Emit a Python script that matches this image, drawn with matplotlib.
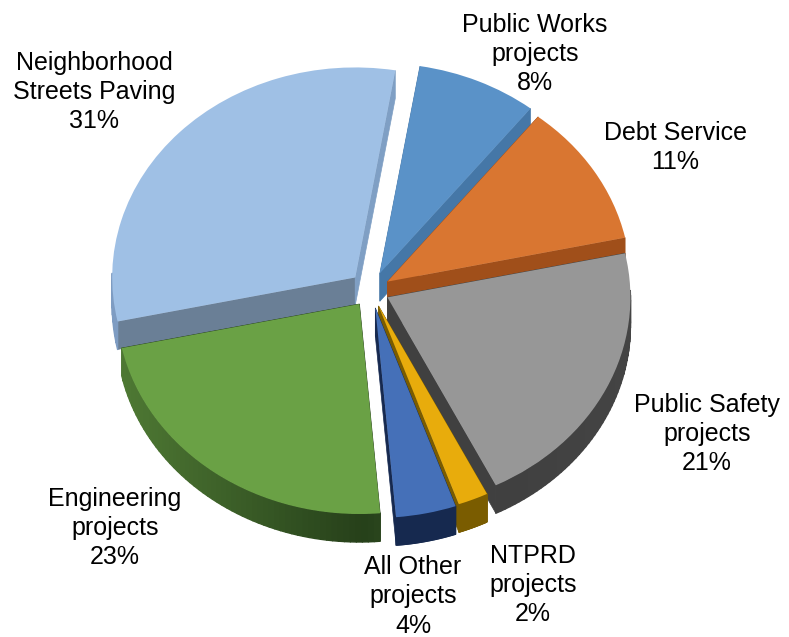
import numpy as np
import matplotlib
matplotlib.use("Agg")
import matplotlib.pyplot as plt
from matplotlib.collections import PolyCollection
from matplotlib.colors import to_rgb

plt.rcParams['font.family'] = ['Liberation Sans', 'DejaVu Sans']

# budget shares, clockwise from the top
names = ["Public Works\nprojects", "Debt Service", "Public Safety\nprojects", "NTPRD\nprojects",
         "All Other\nprojects", "Engineering\nprojects", "Neighborhood\nStreets Paving"]
shares = [8, 11, 21, 2, 4, 23, 31]

explode = [0.09, 0.08, 0.075, 0.08, 0.085, 0.08, 0.09]
top_colors = ["#5a92c8", "#d97631", "#979797", "#e8ac0c", "#4570b8", "#6aa145", "#9fc0e5"]
# outer wall colour at the two ends of each arc (bottom of the pie, sides of the pie)
wall_low = ["#4577a7", "#a04f1a", "#3c3c3c", "#7a5c00", "#16294f", "#26401a", "#7e9cc2"]
wall_high = ["#4577a7", "#a04f1a", "#444444", "#7a5c00", "#16294f", "#4f7a34", "#7e9cc2"]
cut_start = ["#4577a7", "#a04f1a", "#404040", "#7a5c00", "#16294f", "#26401a", "#6a7f96"]
cut_end = ["#4577a7", "#a04f1a", "#404040", "#7a5c00", "#16294f", "#26401a", "#7f9fc4"]
# back slices are painted first
draw_rank = [1, 2, 3, 4, 6, 5, 0]

label_x = [535, 675, 707, 533, 413, 115, 94]
label_y = [54, 147.5, 434, 585, 596.5, 528, 92]

# pixel layout of the pie
W, H = 789, 637
cx, cy = 371, 290.5
rx, ry = 243, 210
depth = 28 / ry

fig = plt.figure(figsize=(W / 100, H / 100), dpi=100)
ax = fig.add_axes([0, 0, 1, 1])

wedges, _ = ax.pie(shares, explode=explode, colors=top_colors, startangle=80.5, counterclock=False,
                   radius=1, wedgeprops={'linewidth': 0})

ax.set_aspect('auto')
ax.set_xlim(-cx / rx, (W - cx) / rx)
ax.set_ylim((cy - H) / ry, cy / ry)
ax.axis('off')


def extrude(p, q, color, z):
    # flat side wall hanging under the segment p-q
    quad = [p, q, (q[0], q[1] - depth), (p[0], p[1] - depth)]
    ax.fill([a[0] for a in quad], [a[1] for a in quad], color=color, lw=0.5, zorder=z)


for i, w in enumerate(wedges):
    z = draw_rank[i] * 3 + 1
    w.set_zorder(z + 2)
    x0, y0 = w.center
    t = np.radians(np.linspace(w.theta1, w.theta2, 60))
    xs = x0 + w.r * np.cos(t)
    ys = y0 + w.r * np.sin(t)

    # the two cut faces go under the outer wall
    extrude((x0, y0), (xs[-1], ys[-1]), cut_start[i], z)
    extrude((x0, y0), (xs[0], ys[0]), cut_end[i], z)

    # outer wall, split into strips so the colour can change along the arc
    quads = []
    colors = []
    low = np.array(to_rgb(wall_low[i]))
    high = np.array(to_rgb(wall_high[i]))
    front = np.abs(np.cos(t))
    for k in range(len(t) - 1):
        # the back half of the rim faces away from the viewer
        if np.sin(t[k]) > 0.02:
            continue
        quads.append([(xs[k], ys[k]), (xs[k + 1], ys[k + 1]),
                      (xs[k + 1], ys[k + 1] - depth), (xs[k], ys[k] - depth)])
        colors.append(low + (high - low) * front[k])
    if quads:
        ax.add_collection(PolyCollection(quads, facecolors=colors, edgecolors=colors, linewidths=1.0, zorder=z + 1))

for name, share, x, y in zip(names, shares, label_x, label_y):
    fig.text(x / W, 1 - y / H, f"{name}\n{share}%", ha='center', va='center', fontsize=18,
             linespacing=1.28, color="black")

fig.savefig("out.png", dpi=100)
